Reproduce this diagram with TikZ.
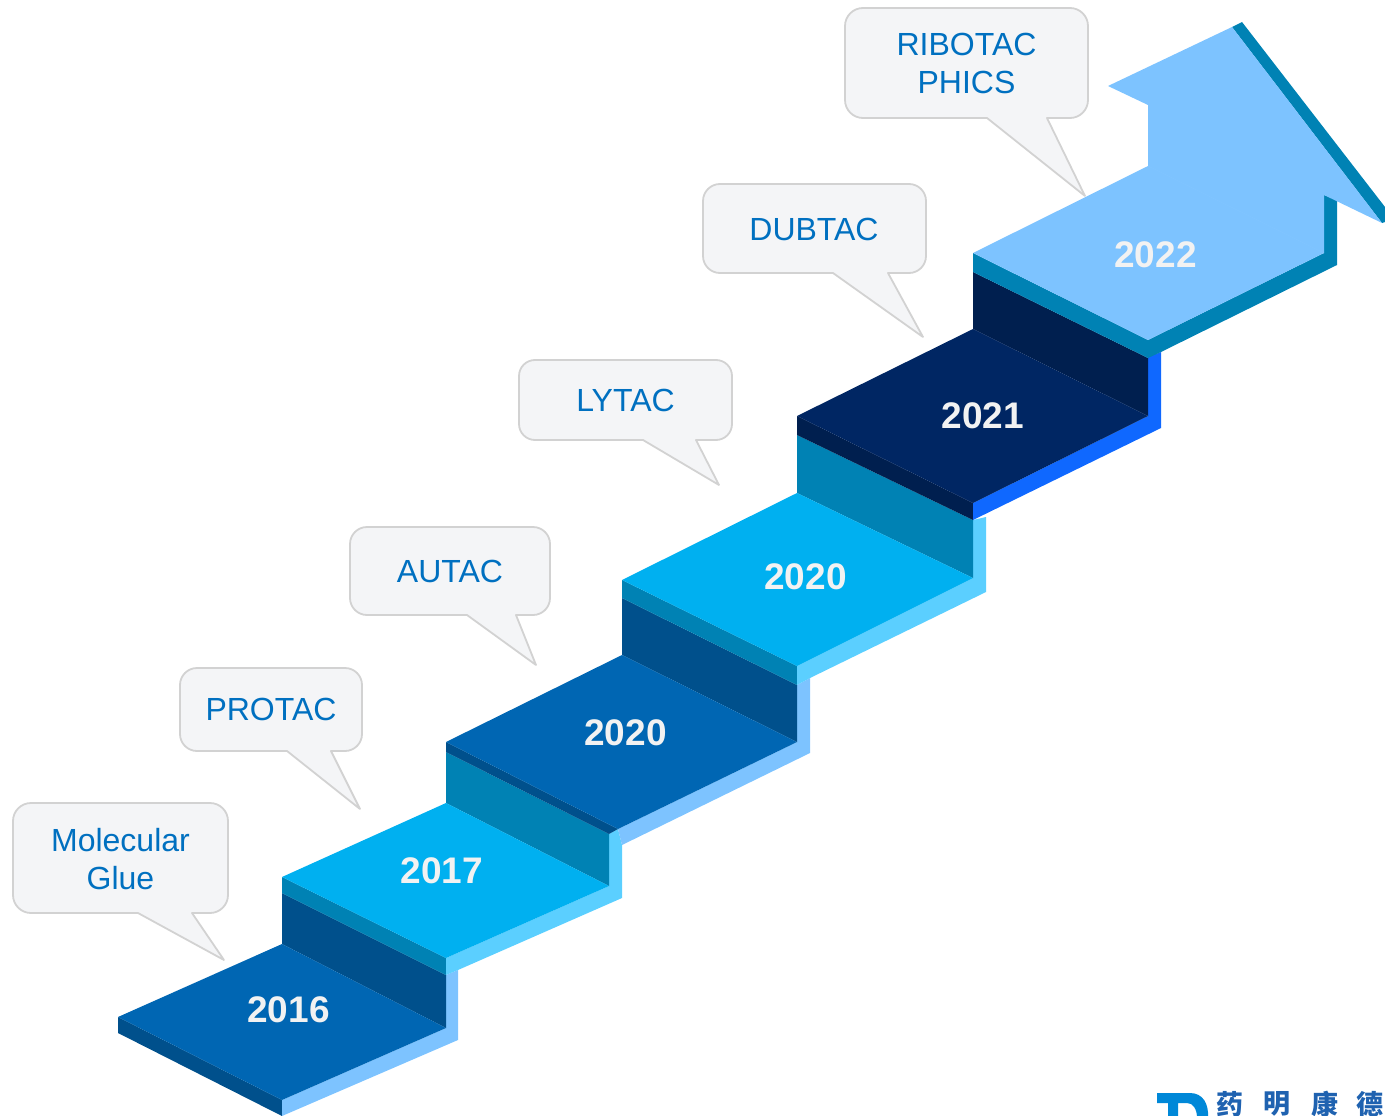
\documentclass[tikz,border=0pt]{standalone}
\usepackage{fontspec}
\setmainfont{Liberation Sans}
\newfontfamily\cjkfont{Noto Sans CJK SC}
\definecolor{stepblue}{HTML}{0066B3}
\definecolor{stepbluedark}{HTML}{00508C}
\definecolor{stepblueedge}{HTML}{7DC3FF}
\definecolor{stepseam}{HTML}{81C5FF}
\definecolor{stepcyan}{HTML}{00B0F0}
\definecolor{stepcyandark}{HTML}{0082B4}
\definecolor{stepcyanedge}{HTML}{5BCFFF}
\definecolor{stepnavy}{HTML}{002663}
\definecolor{stepnavydark}{HTML}{001F4F}
\definecolor{stepnavyedge}{HTML}{0F68FF}
\definecolor{calloutfill}{HTML}{F4F5F7}
\definecolor{calloutline}{HTML}{D2D2D2}
\definecolor{callouttext}{HTML}{0070C0}
\definecolor{yeartext}{HTML}{F2F2F2}
\definecolor{logoblue}{HTML}{0088D8}
\definecolor{logotext}{HTML}{1F62B0}
\tikzset{
  callout/.style={fill=calloutfill,draw=calloutline,line width=1.8pt,line join=round},
  calloutlabel/.style={text=callouttext,align=center,font=\fontsize{32}{38}\selectfont,inner sep=0pt},
  yearlabel/.style={text=yeartext,font=\fontsize{37}{44}\selectfont\bfseries,inner sep=0pt},
  logochar/.style={text=logotext,font=\fontsize{27}{27}\cjkfont\bfseries,inner sep=0pt,anchor=north},
}
\begin{document}
\begin{tikzpicture}[x=1pt,y=-1pt]
  \useasboundingbox (0,0) rectangle (1385,1116);
  % 2016
  \fill[stepbluedark] (118,1017) -- (282,1100) -- (282,1116) -- (118,1033) -- cycle;
  \fill[stepblueedge] (282,1100) -- (446,1028) -- (446,975) -- (458,970) -- (458,1040) -- (282,1116) -- cycle;
  \fill[stepbluedark] (282,893) -- (446,975) -- (446,1028) -- (282,944) -- cycle;
  \fill[stepblue] (118,1017) -- (282,944) -- (446,1028) -- (282,1100) -- cycle;
  % 2017
  \fill[stepcyandark] (282,877) -- (446,958) -- (446,975) -- (282,893) -- cycle;
  \fill[stepcyanedge] (446,958) -- (609,886) -- (609,834) -- (618,829) -- (622,845) -- (622,898) -- (458,970) -- (446,975) -- cycle;
  \fill[stepcyandark] (446,752) -- (609,834) -- (609,886) -- (446,803) -- cycle;
  \fill[stepcyan] (282,877) -- (446,803) -- (609,886) -- (446,958) -- cycle;
  % 2020, lower
  \fill[stepbluedark] (446,742) -- (618,829) -- (609,834) -- (446,752) -- cycle;
  \fill[stepblueedge] (618,829) -- (797,742) -- (797,685) -- (810,678) -- (810,753) -- (622,845) -- cycle;
  \fill[stepbluedark] (622,598) -- (797,685) -- (797,742) -- (622,655) -- cycle;
  \fill[stepblue] (446,742) -- (622,655) -- (797,742) -- (618,829) -- cycle;
  % 2020, upper
  \fill[stepcyandark] (622,580) -- (797,666) -- (797,685) -- (622,598) -- cycle;
  \fill[stepcyanedge] (797,666) -- (973,578) -- (973,520) -- (986,517) -- (986,592) -- (810,678) -- (797,685) -- cycle;
  \fill[stepcyandark] (797,435) -- (973,520) -- (973,578) -- (797,493) -- cycle;
  \fill[stepcyan] (622,580) -- (797,493) -- (973,578) -- (797,666) -- cycle;
  % 2021
  \fill[stepnavydark] (797,416) -- (973,503) -- (973,520) -- (797,435) -- cycle;
  \fill[stepnavyedge] (973,503) -- (1148,416) -- (1148,357) -- (1161,352) -- (1161,428) -- (973,520) -- cycle;
  \fill[stepnavydark] (973,272) -- (1148,358) -- (1148,416) -- (973,329) -- cycle;
  \fill[stepnavy] (797,416) -- (973,329) -- (1148,416) -- (973,503) -- cycle;
  % 2022 and arrow head
  \fill[stepcyandark] (973,253) -- (1148,340) -- (1148,358) -- (973,272) -- cycle;
  \fill[stepcyandark] (1148,340) -- (1324,253) -- (1324,195) -- (1337,200) -- (1337,265) -- (1161,352) -- (1148,358) -- cycle;
  \fill[stepcyandark] (1232,27) -- (1242,22) -- (1385,207) -- (1385,222) -- (1382,223) -- cycle;
  \fill[stepblueedge] (973,253) -- (1148,166) -- (1148,105) -- (1108,86) -- (1232,27) -- (1382,223) -- (1324,195) -- (1324,253) -- (1148,340) -- cycle;
  \draw[stepseam,line width=.5pt] (1148,166) -- (1324,253);
  % Callouts
  \draw[callout,rounded corners=18pt] (13,860) -- (13,803) -- (228,803) -- (228,913) [sharp corners] -- (192,913) -- (224,960) -- (138,913) [rounded corners=18pt] -- (13,913) -- cycle;
  \draw[callout,rounded corners=17pt] (180,710) -- (180,668) -- (362,668) -- (362,751) [sharp corners] -- (331,751) -- (360,809) -- (287,751) [rounded corners=17pt] -- (180,751) -- cycle;
  \draw[callout,rounded corners=17pt] (350,570) -- (350,527) -- (550,527) -- (550,615) [sharp corners] -- (516,615) -- (536,665) -- (467,615) [rounded corners=17pt] -- (350,615) -- cycle;
  \draw[callout,rounded corners=16pt] (519,400) -- (519,360) -- (732,360) -- (732,440) [sharp corners] -- (696,440) -- (719,485) -- (643,440) [rounded corners=16pt] -- (519,440) -- cycle;
  \draw[callout,rounded corners=17pt] (703,230) -- (703,184) -- (926,184) -- (926,273) [sharp corners] -- (888,273) -- (923,337) -- (833,273) [rounded corners=17pt] -- (703,273) -- cycle;
  \draw[callout,rounded corners=18pt] (845,60) -- (845,8) -- (1088,8) -- (1088,118) [sharp corners] -- (1047,118) -- (1085,196) -- (987,118) [rounded corners=18pt] -- (845,118) -- cycle;
  \node[calloutlabel] (glue) at (120.5,859.5) {Molecular\\Glue};
  \node[calloutlabel] (protac) at (271,709.5) {PROTAC};
  \node[calloutlabel] (autac) at (450,571.5) {AUTAC};
  \node[calloutlabel] (lytac) at (625.5,400.5) {LYTAC};
  \node[calloutlabel] (dubtac) at (814,229.5) {DUBTAC};
  \node[calloutlabel] (ribotac) at (966.5,63.5) {RIBOTAC\\PHICS};
  % Years
  \node[yearlabel] (y2016) at (288.5,1010) {2016};
  \node[yearlabel] (y2017) at (442,871) {2017};
  \node[yearlabel] (y2020a) at (625.5,733) {2020};
  \node[yearlabel] (y2020b) at (805.5,577) {2020};
  \node[yearlabel] (y2021) at (983,416) {2021};
  \node[yearlabel] (y2022) at (1155.5,255) {2022};
  % Logo, cut off by the page edge
  \begin{scope}
    \clip (0,0) rectangle (1385,1116);
    \fill[logoblue] (1157,1093) -- (1190,1093) .. controls (1203,1093) and (1209,1104) .. (1208,1118) -- (1197,1118) .. controls (1197,1109) and (1193,1103) .. (1187,1103) -- (1178,1103) -- (1178,1118) -- (1168,1118) -- (1168,1103) -- (1157,1103) -- cycle;
    \node[logochar] (yao) at (1230,1091) {药};
    \node[logochar] (ming) at (1277,1091) {明};
    \node[logochar] (kang) at (1325,1091) {康};
    \node[logochar] (de) at (1370,1091) {德};
  \end{scope}
\end{tikzpicture}
\end{document}
